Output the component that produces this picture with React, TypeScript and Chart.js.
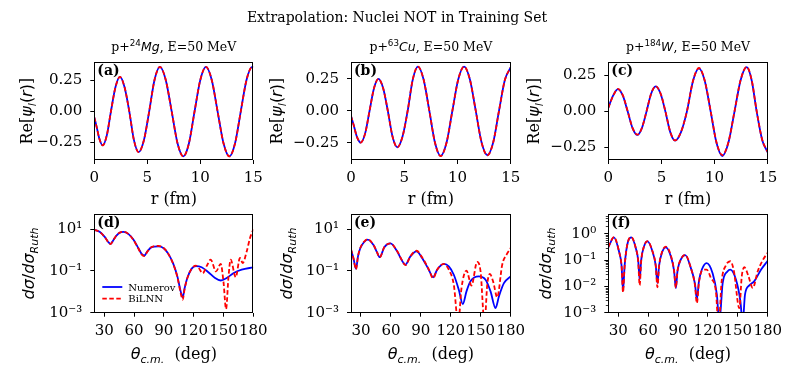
import React, { useEffect, useRef } from "react";
import { Chart, registerables } from "chart.js";

Chart.register(...registerables);

const W = 794;
const H = 375;
const SERIF = '"DejaVu Serif"';
const SANS = '"DejaVu Sans"';
const BLUE = "#0000ff";
const RED = "#ff0000";

// ---------------- data: wave functions (top row) ----------------
const aR = [0, 0.22, 0.47, 0.79, 1.18, 1.57, 2.0, 2.42, 2.85, 3.3, 3.74, 4.18, 4.68, 5.18, 5.68, 6.19, 6.74, 7.3, 7.85, 8.4, 8.93, 9.46, 10.0, 10.53, 11.08, 11.63, 12.19, 12.74, 13.28, 13.82, 14.36, 14.9, 15];
const aNumerov = [-0.05, -0.126, -0.22, -0.276, -0.195, 0.0, 0.197, 0.279, 0.197, 0.0, -0.234, -0.331, -0.234, 0.0, 0.255, 0.361, 0.255, 0.0, -0.259, -0.366, -0.259, 0.0, 0.255, 0.361, 0.255, 0.0, -0.259, -0.366, -0.259, 0.0, 0.255, 0.361, 0.358];
const aBiLNN = [-0.05, -0.126, -0.22, -0.276, -0.195, 0.0, 0.197, 0.279, 0.197, 0.0, -0.234, -0.331, -0.234, 0.0, 0.255, 0.361, 0.255, 0.0, -0.259, -0.366, -0.259, 0.0, 0.255, 0.361, 0.255, 0.0, -0.259, -0.366, -0.259, 0.0, 0.255, 0.361, 0.358];

const bR = [0, 0.25, 0.55, 0.91, 1.33, 1.74, 2.16, 2.57, 3.02, 3.46, 3.9, 4.35, 4.84, 5.32, 5.8, 6.29, 6.82, 7.36, 7.89, 8.42, 8.97, 9.52, 10.07, 10.62, 11.17, 11.72, 12.26, 12.81, 13.36, 13.9, 14.45, 15];
const bNumerov = [-0.04, -0.11, -0.2, -0.247, -0.175, 0, 0.177, 0.25, 0.177, 0, -0.2, -0.284, -0.2, 0, 0.245, 0.346, 0.245, 0, -0.249, -0.352, -0.249, 0, 0.245, 0.346, 0.245, 0, -0.245, -0.346, -0.245, 0, 0.241, 0.341];
const bBiLNN = [-0.04, -0.11, -0.2, -0.247, -0.175, 0, 0.177, 0.25, 0.177, 0, -0.2, -0.284, -0.2, 0, 0.245, 0.346, 0.245, 0, -0.249, -0.352, -0.249, 0, 0.245, 0.346, 0.245, 0, -0.245, -0.346, -0.245, 0, 0.241, 0.341];

const cR = [0, 0.45, 0.91, 1.37, 1.82, 2.28, 2.73, 3.16, 3.6, 4.03, 4.46, 4.92, 5.37, 5.83, 6.28, 6.84, 7.4, 7.97, 8.53, 9.08, 9.63, 10.18, 10.73, 11.3, 11.88, 12.45, 13.02, 13.49, 13.96, 14.48, 15];
const cNumerov = [0.026, 0.11, 0.156, 0.11, 0, -0.117, -0.165, -0.117, 0, 0.123, 0.174, 0.123, 0, -0.145, -0.205, -0.145, 0, 0.212, 0.3, 0.212, 0, -0.22, -0.312, -0.22, 0, 0.218, 0.309, 0.218, 0, -0.2, -0.286];
const cBiLNN = [0.024, 0.108, 0.157, 0.112, 0.002, -0.115, -0.163, -0.116, 0.001, 0.124, 0.176, 0.125, 0.002, -0.143, -0.203, -0.144, 0.001, 0.213, 0.303, 0.214, 0.003, -0.216, -0.306, -0.216, 0.002, 0.219, 0.311, 0.22, 0.003, -0.197, -0.283];

// ---------------- data: cross sections (bottom row) ----------------
const dThetaN = [20, 25.7, 30.7, 34, 36.4, 39, 42.5, 45.8, 49.2, 54.2, 59.3, 64.3, 67.6, 70.3, 73.4, 77.7, 84.4, 89.5, 94.5, 99.5, 103.6, 106.9, 108.9, 110.9, 113.6, 118, 122.3, 128, 134.8, 141.5, 147.2, 153.2, 159.9, 168.3, 180];
const dNumerov = [9.3, 7.4, 4.2, 2.45, 2.0, 2.9, 5.1, 6.9, 7.4, 6.0, 3.2, 1.26, 0.66, 0.55, 0.87, 1.38, 1.5, 1.26, 0.66, 0.22, 0.055, 0.0105, 0.0055, 0.015, 0.046, 0.13, 0.17, 0.15, 0.087, 0.046, 0.035, 0.046, 0.078, 0.115, 0.15];
const dThetaB = [20, 25.7, 30.7, 34, 36.4, 39, 42.5, 45.8, 49.2, 54.2, 59.3, 64.3, 67.6, 70.3, 73.4, 77.7, 84.4, 89.5, 94.5, 99.5, 103.6, 106.9, 108.9, 110.9, 113.6, 118, 122.3, 125, 129.1, 133.3, 137.1, 142.5, 147.2, 150, 152.6, 155, 157.2, 162.3, 166.6, 169.3, 173.4, 176.7, 180];
const dBiLNN = [9.4, 7.3, 4.1, 2.4, 1.95, 2.9, 5.2, 7.0, 7.5, 6.0, 3.1, 1.2, 0.62, 0.52, 0.85, 1.4, 1.6, 1.3, 0.66, 0.21, 0.05, 0.009, 0.0042, 0.014, 0.045, 0.13, 0.18, 0.14, 0.078, 0.18, 0.35, 0.095, 0.22, 0.03, 0.0015, 0.05, 0.35, 0.05, 0.42, 0.24, 0.87, 3.8, 10];

const eThetaN = [20, 22.5, 25, 27, 29.4, 33, 36.7, 42.7, 46, 48.8, 53.4, 59.5, 66.2, 71, 74.5, 79.5, 85.6, 91.2, 97.9, 102.3, 106.3, 113, 118, 123, 128, 132, 135.7, 139.7, 148, 154.8, 159.8, 164.8, 168.2, 173.2, 180];
const eNumerov = [1.05, 0.4, 0.126, 0.5, 1.26, 2.4, 3.2, 1.7, 0.8, 0.46, 1.38, 2.1, 0.87, 0.32, 0.2, 0.5, 0.87, 0.42, 0.115, 0.05, 0.115, 0.22, 0.166, 0.066, 0.0126, 0.0026, 0.0105, 0.032, 0.055, 0.038, 0.0105, 0.00166, 0.006, 0.026, 0.055];
const eThetaB = [20, 22.5, 25, 27, 29.4, 33, 36.7, 42.7, 46, 48.8, 53.4, 59.5, 66.2, 71, 74.5, 79.5, 85.6, 91.2, 97.9, 102.3, 106.3, 113, 118, 123, 127.4, 130.7, 135.7, 140.7, 146.4, 149.8, 153.8, 156.5, 159.1, 162.5, 166.5, 171.5, 176, 180];
const eBiLNN = [1.1, 0.4, 0.12, 0.5, 1.3, 2.5, 3.3, 1.7, 0.8, 0.45, 1.4, 2.1, 0.9, 0.33, 0.19, 0.5, 0.93, 0.45, 0.12, 0.045, 0.115, 0.22, 0.115, 0.022, 0.0003, 0.015, 0.105, 0.02, 0.27, 0.095, 0.0003, 0.022, 0.072, 0.03, 0.0055, 0.2, 0.63, 1.26];

const fThetaN = [20, 25.7, 30.7, 33.3, 34.8, 36.4, 39.8, 43.2, 47.5, 50, 51.5, 53, 56, 59.3, 64.3, 67.6, 69.3, 71, 74, 77.7, 82.8, 86, 87.8, 89.5, 93, 97.2, 102.9, 107, 108.9, 111, 114, 118.7, 124.7, 129, 131.4, 134.8, 139.8, 142.5, 148.2, 152.6, 154.9, 157.2, 161.6, 166.6, 173.4, 180];
const fNumerov = [0.31, 0.74, 0.22, 0.063, 0.0069, 0.063, 0.52, 0.74, 0.3, 0.1, 0.018, 0.1, 0.35, 0.52, 0.22, 0.063, 0.0135, 0.063, 0.2, 0.31, 0.14, 0.04, 0.0087, 0.04, 0.11, 0.155, 0.05, 0.0126, 0.0032, 0.016, 0.045, 0.078, 0.032, 0.0049, 0.0004, 0.0135, 0.038, 0.044, 0.018, 0.0027, 0.0004, 0.0049, 0.011, 0.016, 0.044, 0.095];
const fThetaB = [20, 25.7, 30.7, 33.3, 34.8, 36.4, 39.8, 43.2, 47.5, 50, 51.5, 53, 56, 59.3, 64.3, 67.6, 69.3, 71, 74, 77.7, 82.8, 86, 87.8, 89.5, 93, 97.2, 102.9, 107, 108.9, 111, 114, 118.7, 123, 128, 130.7, 133.8, 138, 142.5, 146, 151.5, 154, 156.6, 160.6, 165, 170, 175, 180];
const fBiLNN = [0.32, 0.76, 0.22, 0.06, 0.006, 0.06, 0.52, 0.76, 0.3, 0.09, 0.011, 0.09, 0.35, 0.53, 0.22, 0.06, 0.0093, 0.06, 0.21, 0.33, 0.15, 0.04, 0.009, 0.04, 0.11, 0.16, 0.05, 0.011, 0.0023, 0.014, 0.04, 0.044, 0.021, 0.0065, 0.0003, 0.016, 0.063, 0.091, 0.04, 0.0015, 0.025, 0.054, 0.025, 0.0087, 0.038, 0.1, 0.19];

// ---------------- ticks ----------------
const rTicks = [0, 5, 10, 15];
const rTickLabels = ["0", "5", "10", "15"];
const psiTicks = [-0.25, 0, 0.25];
const psiTickLabels = ["\u22120.25", "0.00", "0.25"];
const thetaTicks = [30, 60, 90, 120, 150, 180];
const thetaTickLabels = ["30", "60", "90", "120", "150", "180"];
const sigTicksDE = [1e-3, 1e-1, 1e1];
const sigTickLabelsDE = ["10\u207B\u00B3", "10\u207B\u00B9", "10\u00B9"];
const sigTicksF = [1e-3, 1e-2, 1e-1, 1];
const sigTickLabelsF = ["10\u207B\u00B3", "10\u207B\u00B2", "10\u207B\u00B9", "10\u2070"];
const sigMinorF = [2e-3, 3e-3, 4e-3, 5e-3, 6e-3, 7e-3, 8e-3, 9e-3, 2e-2, 3e-2, 4e-2, 5e-2, 6e-2, 7e-2, 8e-2, 9e-2, 0.2, 0.3, 0.4, 0.5, 0.6, 0.7, 0.8, 0.9, 2, 3, 4, 5];

// ---------------- text helpers ----------------
type Seg = { t: string; font: string; dy?: number };

function drawRich(ctx: CanvasRenderingContext2D, segs: Seg[], x: number, y: number, align: "left" | "center", rot = 0) {
  ctx.save();
  ctx.translate(x, y);
  if (rot) ctx.rotate(rot);
  let w = 0;
  for (const s of segs) {
    ctx.font = s.font;
    w += ctx.measureText(s.t).width;
  }
  let cx = align === "center" ? -w / 2 : 0;
  ctx.textAlign = "left";
  ctx.textBaseline = "alphabetic";
  ctx.fillStyle = "#000";
  for (const s of segs) {
    ctx.font = s.font;
    ctx.fillText(s.t, cx, s.dy || 0);
    cx += ctx.measureText(s.t).width;
  }
  ctx.restore();
}

const LBL = 16;
const SUB = 11;
const TTL = 12.5;

const psiLabel: Seg[] = [
  { t: "Re[", font: `${LBL}px ${SERIF}` },
  { t: "\u03C8", font: `italic ${LBL}px ${SANS}` },
  { t: "l", font: `italic ${SUB}px ${SANS}`, dy: 3.5 },
  { t: "(", font: `${LBL}px ${SANS}` },
  { t: "r", font: `italic ${LBL}px ${SANS}` },
  { t: ")", font: `${LBL}px ${SANS}` },
  { t: "]", font: `${LBL}px ${SERIF}` },
];
const sigLabel: Seg[] = [
  { t: "d\u03C3", font: `italic ${LBL}px ${SANS}` },
  { t: "/", font: `${LBL}px ${SANS}` },
  { t: "d\u03C3", font: `italic ${LBL}px ${SANS}` },
  { t: "Ruth", font: `italic ${SUB}px ${SANS}`, dy: 3.5 },
];
const rLabel: Seg[] = [{ t: "r (fm)", font: `${LBL}px ${SERIF}` }];
const thetaLabel: Seg[] = [
  { t: "\u03B8", font: `italic ${LBL}px ${SANS}` },
  { t: "c.m.", font: `italic ${SUB}px ${SANS}`, dy: 3.5 },
  { t: "  (deg)", font: `${LBL}px ${SERIF}` },
];
function nucTitle(mass: string, el: string): Seg[] {
  return [
    { t: "p+", font: `${TTL}px ${SERIF}` },
    { t: mass, font: `${TTL * 0.7}px ${SANS}`, dy: -5 },
    { t: el, font: `italic ${TTL}px ${SANS}` },
    { t: ", E=50 MeV", font: `${TTL}px ${SERIF}` },
  ];
}

// ---------------- panels ----------------
interface PanelDef {
  tag: string;
  left: number; right: number; top: number; bottom: number;
  xMin: number; xMax: number; xTicks: number[]; xTickLabels: string[];
  yLog: boolean; yMin: number; yMax: number; yTicks: number[]; yTickLabels: string[];
  yMinor?: number[];
  nx: number[]; ny: number[]; bx: number[]; by: number[];
  title?: Seg[];
  xTitle: Seg[]; xTitleY: number;
  yTitle: Seg[]; yTitleX: number;
  legend?: boolean; suptitle?: boolean;
}

const COLS = [
  { left: 94.3, right: 253.3 },
  { left: 351, right: 510.7 },
  { left: 608.3, right: 767.7 },
];
const TOP_ROW = { top: 62.3, bottom: 160 };
const BOT_ROW = { top: 214.3, bottom: 312.7 };

const panels: PanelDef[] = [
  {
    tag: "(a)", ...COLS[0], ...TOP_ROW, xMin: 0, xMax: 15, xTicks: rTicks, xTickLabels: rTickLabels,
    yLog: false, yMin: -0.395, yMax: 0.398, yTicks: psiTicks, yTickLabels: psiTickLabels,
    nx: aR, ny: aNumerov, bx: aR, by: aBiLNN, title: nucTitle("24", "Mg"),
    xTitle: rLabel, xTitleY: 204, yTitle: psiLabel, yTitleX: 32, suptitle: true,
  },
  {
    tag: "(b)", ...COLS[1], ...TOP_ROW, xMin: 0, xMax: 15, xTicks: rTicks, xTickLabels: rTickLabels,
    yLog: false, yMin: -0.383, yMax: 0.38, yTicks: psiTicks, yTickLabels: psiTickLabels,
    nx: bR, ny: bNumerov, bx: bR, by: bBiLNN, title: nucTitle("63", "Cu"),
    xTitle: rLabel, xTitleY: 204, yTitle: psiLabel, yTitleX: 282,
  },
  {
    tag: "(c)", ...COLS[2], ...TOP_ROW, xMin: 0, xMax: 15, xTicks: rTicks, xTickLabels: rTickLabels,
    yLog: false, yMin: -0.34, yMax: 0.343, yTicks: psiTicks, yTickLabels: psiTickLabels,
    nx: cR, ny: cNumerov, bx: cR, by: cBiLNN, title: nucTitle("184", "W"),
    xTitle: rLabel, xTitleY: 204, yTitle: psiLabel, yTitleX: 539,
  },
  {
    tag: "(d)", ...COLS[0], ...BOT_ROW, xMin: 20, xMax: 180, xTicks: thetaTicks, xTickLabels: thetaTickLabels,
    yLog: true, yMin: 1e-3, yMax: 52, yTicks: sigTicksDE, yTickLabels: sigTickLabelsDE,
    nx: dThetaN, ny: dNumerov, bx: dThetaB, by: dBiLNN,
    xTitle: thetaLabel, xTitleY: 359, yTitle: sigLabel, yTitleX: 34, legend: true,
  },
  {
    tag: "(e)", ...COLS[1], ...BOT_ROW, xMin: 20, xMax: 180, xTicks: thetaTicks, xTickLabels: thetaTickLabels,
    yLog: true, yMin: 1e-3, yMax: 52, yTicks: sigTicksDE, yTickLabels: sigTickLabelsDE,
    nx: eThetaN, ny: eNumerov, bx: eThetaB, by: eBiLNN,
    xTitle: thetaLabel, xTitleY: 359, yTitle: sigLabel, yTitleX: 292,
  },
  {
    tag: "(f)", ...COLS[2], ...BOT_ROW, xMin: 20, xMax: 180, xTicks: thetaTicks, xTickLabels: thetaTickLabels,
    yLog: true, yMin: 1e-3, yMax: 5.6, yTicks: sigTicksF, yTickLabels: sigTickLabelsF, yMinor: sigMinorF,
    nx: fThetaN, ny: fNumerov, bx: fThetaB, by: fBiLNN,
    xTitle: thetaLabel, xTitleY: 359, yTitle: sigLabel, yTitleX: 551,
  },
];

const YW = 60;
const XH = 30;
const TICK_FONT = 15;
const LINE_W = 1.8;

function makeConfig(p: PanelDef): any {
  const decor = {
    id: "decor" + p.tag,
    afterDraw(chart: any) {
      const ctx: CanvasRenderingContext2D = chart.ctx;
      const a = chart.chartArea;
      const ys = chart.scales.y;
      ctx.save();
      // minor ticks
      if (p.yMinor) {
        ctx.strokeStyle = "#000";
        ctx.lineWidth = 0.8;
        for (const v of p.yMinor) {
          const py = Math.round(ys.getPixelForValue(v)) + 0.5;
          ctx.beginPath();
          ctx.moveTo(a.left - 2.5, py);
          ctx.lineTo(a.left, py);
          ctx.stroke();
        }
      }
      // frame
      ctx.strokeStyle = "#000";
      ctx.lineWidth = 1;
      const l = Math.round(a.left) + 0.5, r = Math.round(a.right) - 0.5;
      const t = Math.round(a.top) + 0.5, b = Math.round(a.bottom) - 0.5;
      ctx.strokeRect(l, t, r - l, b - t);
      // panel tag
      ctx.fillStyle = "#000";
      ctx.font = `bold 14px ${SERIF}`;
      ctx.textAlign = "left";
      ctx.textBaseline = "alphabetic";
      ctx.fillText(p.tag, a.left + 3, a.top + 13);
      // legend
      if (p.legend) {
        const lx = a.left + 8, ly1 = 287, ly2 = 298.7;
        ctx.lineWidth = LINE_W;
        ctx.strokeStyle = BLUE;
        ctx.setLineDash([]);
        ctx.beginPath(); ctx.moveTo(lx, ly1); ctx.lineTo(lx + 20, ly1); ctx.stroke();
        ctx.strokeStyle = RED;
        ctx.setLineDash([4.5, 2.5]);
        ctx.beginPath(); ctx.moveTo(lx, ly2); ctx.lineTo(lx + 20, ly2); ctx.stroke();
        ctx.setLineDash([]);
        ctx.font = `10px ${SERIF}`;
        ctx.fillStyle = "#000";
        ctx.fillText("Numerov", lx + 26, ly1 + 3.6);
        ctx.fillText("BiLNN", lx + 26, ly2 + 3.6);
      }
      ctx.restore();
      const cx = (a.left + a.right) / 2;
      const cy = (a.top + a.bottom) / 2;
      if (p.title) drawRich(ctx, p.title, cx, 51, "center");
      drawRich(ctx, p.xTitle, cx, p.xTitleY, "center");
      drawRich(ctx, p.yTitle, p.yTitleX, cy, "center", -Math.PI / 2);
      if (p.suptitle) {
        drawRich(ctx, [{ t: "Extrapolation: Nuclei NOT in Training Set", font: `14px ${SERIF}` }], W / 2, 22, "center");
      }
    },
  };

  const tickFont = { family: SERIF, size: TICK_FONT };
  const grid = { display: true, drawOnChartArea: false, drawTicks: true, tickLength: 4, tickColor: "#000", tickWidth: 1 };

  return {
    type: "line",
    data: {
      datasets: [
        {
          label: "Numerov",
          data: p.nx.map((x, i) => ({ x, y: p.ny[i] })),
          borderColor: BLUE,
          borderWidth: LINE_W,
          pointRadius: 0,
          fill: false,
          cubicInterpolationMode: "monotone",
          clip: 0,
          order: 1,
        },
        {
          label: "BiLNN",
          data: p.bx.map((x, i) => ({ x, y: p.by[i] })),
          borderColor: RED,
          borderWidth: LINE_W,
          borderDash: [4.5, 2.5],
          pointRadius: 0,
          fill: false,
          cubicInterpolationMode: "monotone",
          clip: 0,
          order: 0,
        },
      ],
    },
    options: {
      animation: false,
      responsive: false,
      devicePixelRatio: 1,
      events: [],
      layout: {
        padding: { left: p.left - YW, right: W - p.right, top: p.top, bottom: H - p.bottom - XH },
      },
      plugins: { legend: { display: false }, tooltip: { enabled: false }, title: { display: false } },
      scales: {
        x: {
          type: "linear",
          min: p.xMin,
          max: p.xMax,
          afterFit: (s: any) => { s.height = XH; },
          afterBuildTicks: (s: any) => { s.ticks = p.xTicks.map((v) => ({ value: v })); },
          ticks: {
            autoSkip: false, maxRotation: 0, minRotation: 0, padding: 5, color: "#000", font: tickFont,
            callback: (_v: any, i: number) => p.xTickLabels[i],
          },
          grid,
          border: { display: false },
        },
        y: {
          type: p.yLog ? "logarithmic" : "linear",
          min: p.yMin,
          max: p.yMax,
          afterFit: (s: any) => { s.width = YW; },
          afterBuildTicks: (s: any) => { s.ticks = p.yTicks.map((v) => ({ value: v })); },
          ticks: {
            autoSkip: false, padding: 8, color: "#000", font: tickFont,
            callback: (_v: any, i: number) => p.yTickLabels[i],
          },
          grid,
          border: { display: false },
        },
      },
    },
    plugins: [decor],
  };
}

function Panel({ p }: { p: PanelDef }) {
  const ref = useRef<HTMLCanvasElement>(null);
  useEffect(() => {
    const chart = new Chart(ref.current as HTMLCanvasElement, makeConfig(p));
    return () => chart.destroy();
  }, [p]);
  return (
    <canvas
      ref={ref}
      width={W}
      height={H}
      style={{ position: "absolute", left: 0, top: 0, width: W, height: H }}
    />
  );
}

export default function App() {
  return (
    <div style={{ position: "absolute", left: 0, top: 0, width: W, height: H, background: "#fff", overflow: "hidden" }}>
      {panels.map((p) => (
        <Panel key={p.tag} p={p} />
      ))}
    </div>
  );
}
